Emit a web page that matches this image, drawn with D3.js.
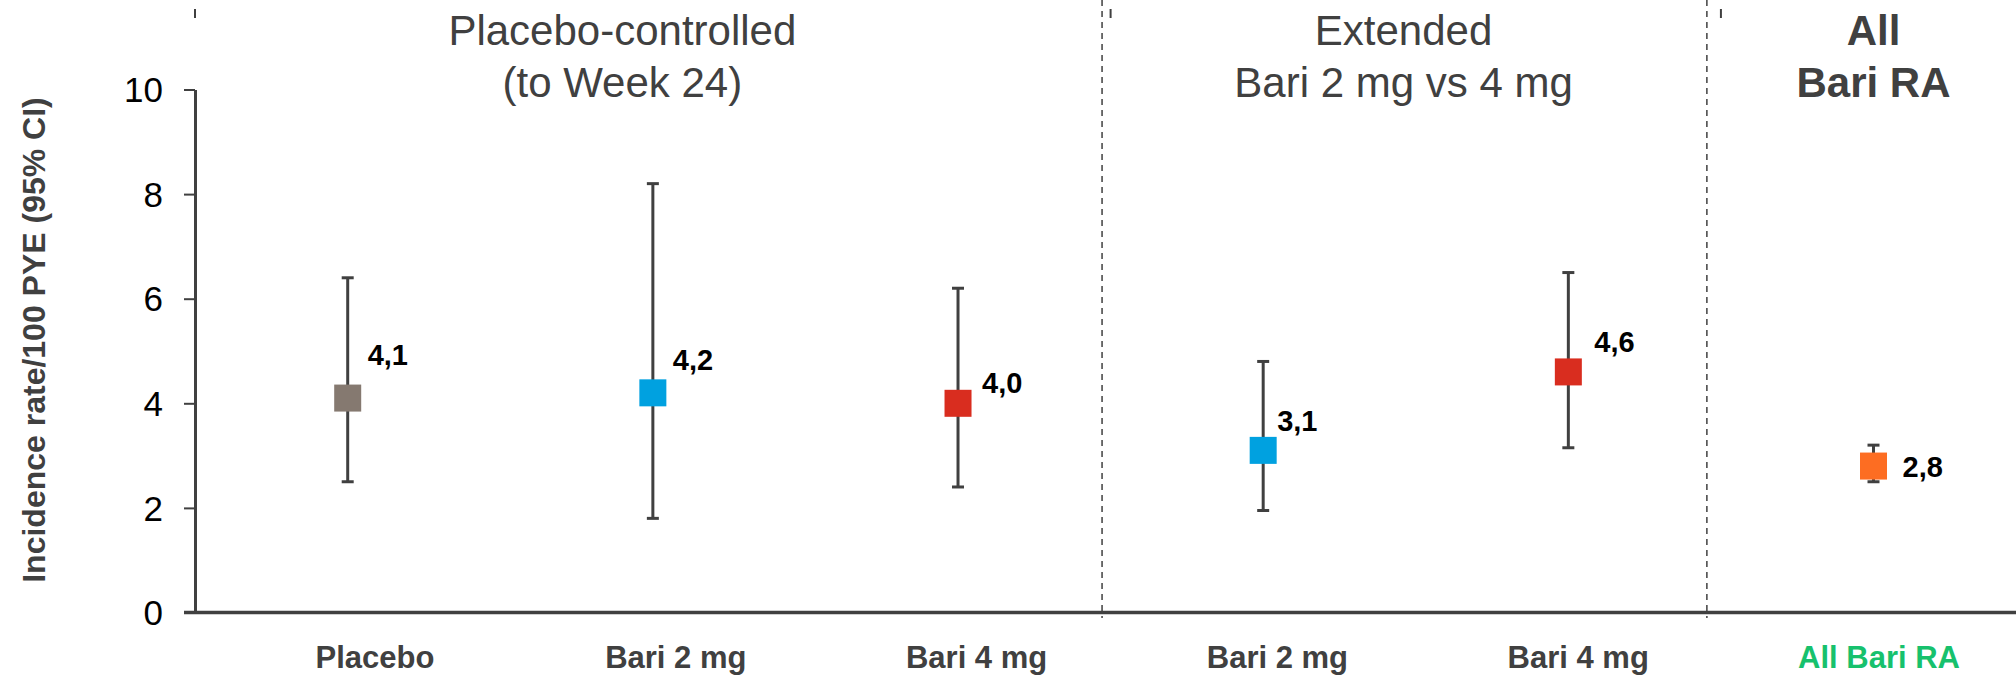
<!DOCTYPE html>
<html>
<head>
<meta charset="utf-8">
<script src="https://cdn.jsdelivr.net/npm/d3@7"></script>
<style>
  body { margin: 0; background: #fff; }
  svg { display: block; font-family: "Liberation Sans", Arial, sans-serif; }
</style>
</head>
<body>
<svg id="chart" width="2016" height="676"></svg>
<script>
// ========== Data ==========

const categories = ["Placebo", "Bari 2 mg", "Bari 4 mg", "Bari 2 mg", "Bari 4 mg", "All Bari RA"];
const rates = [4.1, 4.2, 4.0, 3.1, 4.6, 2.8];
const ciLow = [2.5, 1.8, 2.4, 1.95, 3.15, 2.5];
const ciHigh = [6.4, 8.2, 6.2, 4.8, 6.5, 3.2];
const yTicks = [0, 2, 4, 6, 8, 10];
const headerLines = [
    ["Placebo-controlled", "(to Week 24)"],
    ["Extended", "Bari 2 mg vs 4 mg"],
    ["All", "Bari RA"]
];
const yTitle = "Incidence rate/100 PYE (95% CI)";

// ========== Styles / layout ==========

const markerColors = ["#857970", "#00a1e0", "#d92d1f", "#00a1e0", "#d92d1f", "#fd6d22"];
const labelColors = ["#404040", "#404040", "#404040", "#404040", "#404040", "#17c16d"];
const ink = "#404040";
// text start / baseline nudges relative to each marker
const labelNudge = [[20, -33], [20, -23], [24, -10], [14, -19], [26, -20], [29, 11]];
// header centres and dashed dividers, in category-index units
const headerAt = [0.9, 3.46, 5.0];
const dividerAt = [2.472, 4.454];
const stubAt = [2.5, 4.5];

const svg = d3.select("#chart");
const idx = d3.range(categories.length);

const x = d3.scalePoint().domain(idx).range([347.7, 1873.5]);
const xi = d3.scaleLinear().domain([0, 5]).range([347.7, 1873.5]);
const xLabel = d3.scalePoint().domain(idx).range([375, 1879]);
const y = d3.scaleLinear().domain([0, 10]).range([612.5, 89.5]);
const axisX = 195;

// ========== Dividers ==========

svg.selectAll(".divider")
    .data(dividerAt)
    .join("line")
    .attr("x1", d => xi(d)).attr("x2", d => xi(d))
    .attr("y1", 0).attr("y2", 618)
    .attr("stroke", ink)
    .attr("stroke-width", 1.5)
    .attr("stroke-dasharray", "6,5");

svg.selectAll(".stub")
    .data([null].concat(stubAt))
    .join("line")
    .attr("x1", d => d === null ? axisX : xi(d))
    .attr("x2", d => d === null ? axisX : xi(d))
    .attr("y1", 9).attr("y2", 18)
    .attr("stroke", ink)
    .attr("stroke-width", 2);

// ========== Axes ==========

const yAxis = svg.append("g")
    .attr("transform", `translate(${axisX},0)`)
    .call(d3.axisLeft(y).tickValues(yTicks).tickSize(11).tickPadding(21).tickSizeOuter(0));
yAxis.select(".domain").attr("stroke", ink).attr("stroke-width", 3);
yAxis.selectAll(".tick line").attr("stroke", ink).attr("stroke-width", 2);
yAxis.selectAll(".tick text")
    .attr("fill", "#000")
    .style("font-size", "35px")
    .style("font-family", "'Liberation Sans', Arial, sans-serif")
    .attr("dy", "0.35em");

svg.append("line")
    .attr("x1", axisX - 11).attr("x2", 2016)
    .attr("y1", y(0)).attr("y2", y(0))
    .attr("stroke", ink)
    .attr("stroke-width", 3.5);

svg.append("text")
    .attr("transform", "translate(45,340) rotate(-90)")
    .attr("text-anchor", "middle")
    .attr("fill", ink)
    .style("font-size", "32px")
    .style("font-weight", "bold")
    .text(yTitle);

// ========== Category labels ==========

svg.selectAll(".cat")
    .data(idx)
    .join("text")
    .attr("x", d => xLabel(d))
    .attr("y", 668)
    .attr("text-anchor", "middle")
    .attr("fill", d => labelColors[d])
    .style("font-size", "31px")
    .style("font-weight", "bold")
    .text(d => categories[d]);

// ========== Group headers ==========

const headers = svg.selectAll(".header")
    .data(headerLines)
    .join("text")
    .attr("text-anchor", "middle")
    .attr("fill", ink)
    .style("font-size", "42px")
    .style("font-weight", (d, i) => i === 2 ? "bold" : "normal");

headers.selectAll("tspan")
    .data((d, i) => d.map(t => ({ t, i })))
    .join("tspan")
    .attr("x", d => xi(headerAt[d.i]))
    .attr("y", (d, j) => j === 0 ? 45 : 96.7)
    .text(d => d.t);

// ========== Error bars + markers ==========

const pts = svg.selectAll(".pt")
    .data(idx)
    .join("g");

pts.append("line")
    .attr("x1", d => x(d)).attr("x2", d => x(d))
    .attr("y1", d => y(ciLow[d])).attr("y2", d => y(ciHigh[d]))
    .attr("stroke", ink).attr("stroke-width", 3);

pts.selectAll(".cap")
    .data(d => [ciLow[d], ciHigh[d]].map(v => ({ d, v })))
    .join("line")
    .attr("x1", c => x(c.d) - 6).attr("x2", c => x(c.d) + 6)
    .attr("y1", c => y(c.v)).attr("y2", c => y(c.v))
    .attr("stroke", ink).attr("stroke-width", 3);

pts.append("rect")
    .attr("x", d => x(d) - 13.5)
    .attr("y", d => y(rates[d]) - 13.5)
    .attr("width", 27).attr("height", 27)
    .attr("fill", d => markerColors[d]);

pts.append("text")
    .attr("x", d => x(d) + labelNudge[d][0])
    .attr("y", d => y(rates[d]) + labelNudge[d][1])
    .attr("fill", "#000")
    .style("font-size", "29px")
    .style("font-weight", "bold")
    .text(d => d3.format(".1f")(rates[d]).replace(".", ","));
</script>
</body>
</html>
